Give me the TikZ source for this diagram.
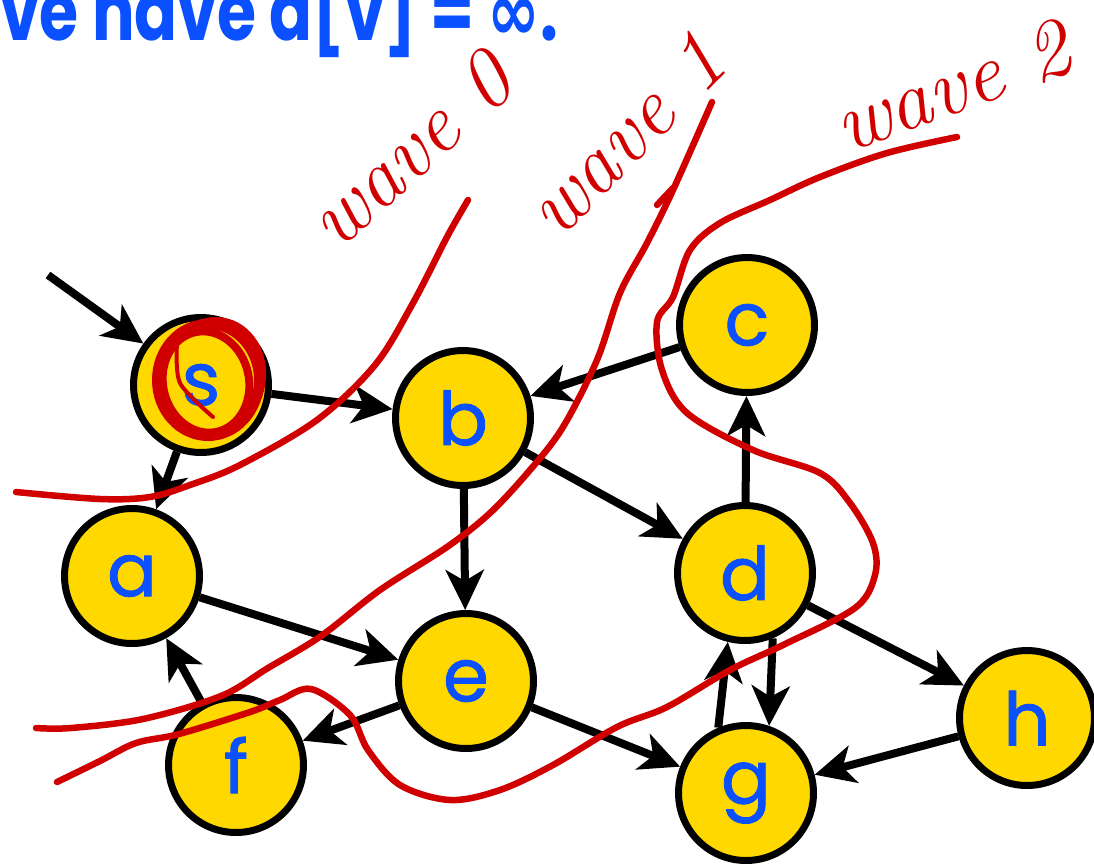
\documentclass[tikz,border=0pt]{standalone}
\usepackage{fontspec}
\usetikzlibrary{arrows.meta}
\newfontfamily\labelfont[FakeBold=1.2]{Poppins}
\newfontfamily\headfont{Poppins}
\newfontfamily\symfont{DejaVu Sans}
\definecolor{vertexyellow}{HTML}{FFD800}
\definecolor{labelblue}{HTML}{0A50FF}
\definecolor{penred}{HTML}{D00000}
\tikzset{
  vertex/.style={circle, draw=black, line width=0.14cm, fill=vertexyellow,
    minimum size=2.7cm, inner sep=0pt, text=labelblue,
    font=\labelfont\fontsize{42}{42}\selectfont},
  edge/.style={line width=0.16cm, -{Stealth[length=0.8cm,width=0.76cm,inset=0.22cm]}},
  pen/.style={penred, line width=0.13cm, line cap=round, line join=round},
  hand/.style={text=penred, inner sep=0pt, font=\itshape\fontsize{48}{48}\selectfont},
}
\begin{document}
\begin{tikzpicture}[x=0.02cm, y=-0.02cm]
  \useasboundingbox (0,0) rectangle (1094,863);
  % heading, cut at the top
  \node[anchor=base west, inner sep=0pt, text=labelblue,
    font=\headfont\bfseries\fontsize{36}{36}\selectfont] (heading) at (0,40)
    {\scalebox{1}[1.3]{ve have d[v] = {\symfont\bfseries ∞}.}};
  % vertices
  \node[vertex] (s) at (201,385) {s};
  \node[vertex] (b) at (463,418) {b};
  \node[vertex] (c) at (747,325) {c};
  \node[vertex] (a) at (132,576) {a};
  \node[vertex] (d) at (745,573) {d};
  \node[vertex] (e) at (466,681) {e};
  \node[vertex] (f) at (236,765) {f};
  \node[vertex] (g) at (746,793) {g};
  \node[vertex] (h) at (1027,718) {h};
  \coordinate (entry) at (48,275);
  % edges
  \draw[edge] (entry) -- (s);
  \draw[edge] (s) -- (b);
  \draw[edge] (s) -- (a);
  \draw[edge] (c) -- (b);
  \draw[edge] (b) -- (d);
  \draw[edge] (b) -- (e);
  \draw[edge] (a) -- (e);
  \draw[edge] (f) -- (a);
  \draw[edge] (e) -- (f);
  \draw[edge] (e) -- (g);
  \draw[edge] (d) -- (c);
  \draw[edge] (d) -- (h);
  \draw[edge] (h) -- (g);
  \draw[edge] (g.113) -- (d.256);
  \draw[edge] (d.293) -- (g.71);
  % scribble on s
  \draw[pen, line width=0.2cm] (208,380) ellipse (51 and 56);
  \draw[pen, line width=0.16cm, rotate around={12:(206,382)}] (206,382) ellipse (43 and 51);
  \draw[pen, line width=0.14cm, rotate around={-15:(212,378)}] (212,378) ellipse (50 and 58);
  \draw[pen, line width=0.08cm] plot[smooth] coordinates {(177,343) (180,383) (213,417)};
  % wave fronts
  \draw[pen] plot[smooth, tension=0.55] coordinates {(16,492) (100,499) (150,497)
    (190,485) (240,465) (317,420) (375,365) (413,303) (447,237) (468,200)};
  \draw[pen] plot[smooth, tension=0.55] coordinates {(36,728) (71,728) (143,719)
    (221,696) (268,668) (321,636) (380,590) (447,547) (490,513) (530,470)
    (563,427) (597,360) (620,293) (647,243) (673,190) (712,102)};
  \draw[pen] (673,188) -- (657,205);
  \draw[pen] plot[smooth, tension=0.55] coordinates {(957,137) (887,153) (820,177)
    (770,200) (720,223) (690,250) (673,297) (657,322) (662,370) (687,413)
    (753,450) (820,473) (850,503) (873,543) (875,575) (855,608) (783,645)
    (730,670) (667,707) (617,727) (553,765) (500,790) (450,800) (400,785)
    (368,750) (350,715) (311,689) (280,700) (250,712) (179,734) (136,743)
    (100,761) (57,782)};
  \node[hand, rotate=42] (wave0) at (410,150) {wave 0};
  \node[hand, rotate=45] (wave1) at (625,135) {wave 1};
  \node[hand, rotate=20] (wave2) at (952,86) {wave 2};
\end{tikzpicture}
\end{document}
